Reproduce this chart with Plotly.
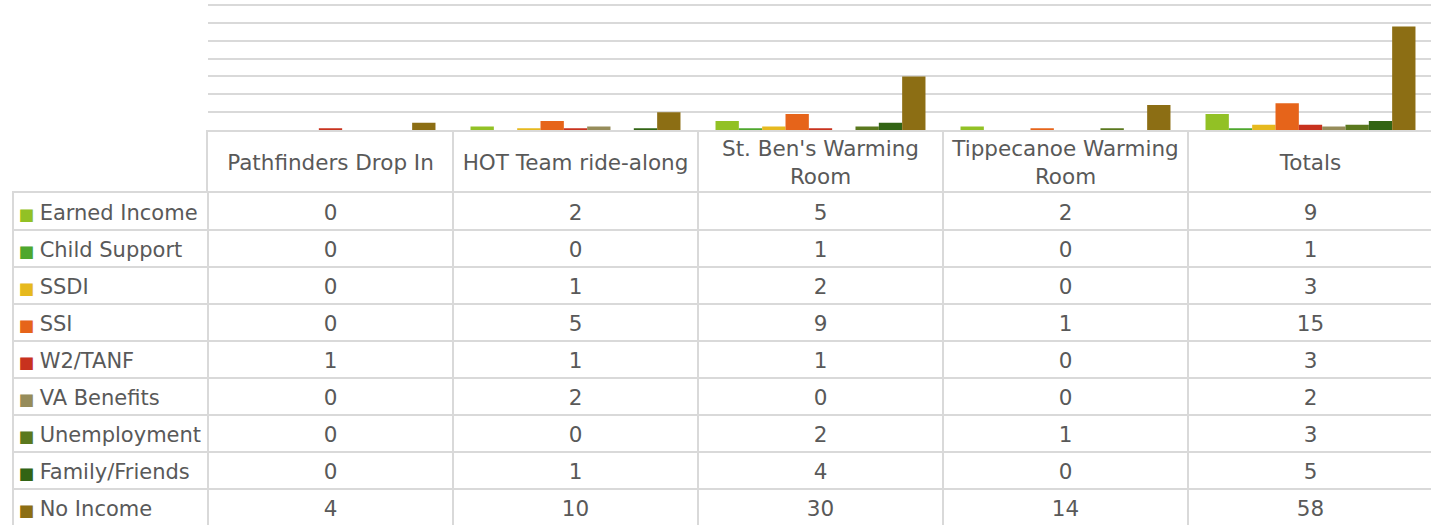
import plotly.graph_objects as go

# dane
sites = ["Pathfinders Drop In", "HOT Team ride-along", "St. Ben's Warming Room",
         "Tippecanoe Warming Room", "Totals"]
site_labels = ["Pathfinders Drop In", "HOT Team ride-along", "St. Ben's Warming<br>Room",
               "Tippecanoe Warming<br>Room", "Totals"]
income = ["Earned Income", "Child Support", "SSDI", "SSI", "W2/TANF",
          "VA Benefits", "Unemployment", "Family/Friends", "No Income"]
colors = ["#92C125", "#4EA72E", "#E6B91E", "#E6641A", "#C8321E",
          "#968C5A", "#5A781E", "#326414", "#8C6E14"]

earned = [0, 2, 5, 2, 9]
child = [0, 0, 1, 0, 1]
ssdi = [0, 1, 2, 0, 3]
ssi = [0, 5, 9, 1, 15]
w2 = [1, 1, 1, 0, 3]
va = [0, 2, 0, 0, 2]
unemp = [0, 0, 2, 1, 3]
family = [0, 1, 4, 0, 5]
no_income = [4, 10, 30, 14, 58]
values = [earned, child, ssdi, ssi, w2, va, unemp, family, no_income]

W, H = 1431, 525
COL = 245
FONT = "DejaVu Sans"
TXT = "#595959"
LINE = "#d9d9d9"
FS = 21.5

fig = go.Figure()

# wykres słupkowy
for name, col, vals in zip(income, colors, values):
    fig.add_trace(go.Bar(
        x=sites, y=vals, name=name,
        marker=dict(color=col, line=dict(width=0)),
        xaxis="x", yaxis="y"
    ))

# nagłówek tabeli
fig.add_trace(go.Scatter(
    x=sites, y=[0] * len(sites), text=site_labels,
    mode="text", textposition="middle center",
    textfont=dict(family=FONT, size=FS, color=TXT),
    xaxis="x3", yaxis="y3", hoverinfo="skip"
))

# komórki tabeli
cx, cy, ct = [], [], []
for i, vals in enumerate(values):
    for j, v in enumerate(vals):
        cx.append(j)
        cy.append(i)
        ct.append(str(v))
fig.add_trace(go.Scatter(
    x=cx, y=cy, text=ct, mode="text", textposition="middle center",
    textfont=dict(family=FONT, size=FS, color=TXT),
    xaxis="x2", yaxis="y2", hoverinfo="skip"
))

row_labels = [
    f"<span style='color:{c};font-size:16.5px'>■ </span>{n}"
    for n, c in zip(income, colors)
]

x_right = len(sites) - 0.5 - 2 / COL
x_left2 = -0.5 - 194 / COL
body_h = (H - 193) / 37
d = 3 / 37  # przesunięcie tekstu w dół

fig.update_layout(
    width=W, height=H,
    margin=dict(l=0, r=0, t=0, b=0),
    paper_bgcolor="white", plot_bgcolor="white",
    showlegend=False,
    barmode="group", bargap=0.143, bargroupgap=0,
    font=dict(family=FONT, size=FS, color=TXT),
    xaxis=dict(
        domain=[208 / W, 1], range=[-0.5, x_right],
        showticklabels=False, ticks="", showgrid=False,
        showline=True, linecolor=LINE, linewidth=2,
    ),
    yaxis=dict(
        domain=[1 - 130 / H, 1 - 1.4 / H], range=[0, 72],
        tickvals=[10, 20, 30, 40, 50, 60, 70],
        showticklabels=False, ticks="", zeroline=False,
        showgrid=True, gridcolor=LINE, gridwidth=2,
    ),
    xaxis3=dict(
        domain=[208 / W, 1], range=[-0.5, x_right], type="category",
        tickson="boundaries", showticklabels=False, ticks="",
        showgrid=True, gridcolor=LINE, gridwidth=2, anchor="y3",
    ),
    yaxis3=dict(
        domain=[1 - 193 / H, 1 - 130 / H], range=[-0.9, 1.1],
        showticklabels=False, ticks="", showgrid=False, zeroline=False,
        showline=True, linecolor=LINE, linewidth=2, anchor="x3",
    ),
    xaxis2=dict(
        domain=[14 / W, 1], range=[x_left2, x_right],
        tickvals=[k - 0.5 for k in range(len(sites))],
        showticklabels=False, ticks="", zeroline=False,
        showgrid=True, gridcolor=LINE, gridwidth=2,
        side="top", showline=True, linecolor=LINE, linewidth=2, anchor="y2",
    ),
    yaxis2=dict(
        domain=[0, 1 - 193 / H], range=[-0.5 - d + body_h, -0.5 - d],
        tickvals=list(range(len(income))), ticktext=row_labels,
        ticklabelposition="inside", ticklabelstandoff=6, ticklabelshift=2,
        ticks="", showgrid=False, zeroline=False,
        tickfont=dict(family=FONT, size=21, color=TXT),
        showline=True, linecolor=LINE, linewidth=2, anchor="x2",
        minor=dict(tickvals=[k + 0.5 - d for k in range(len(income) - 1)],
                   showgrid=True, gridcolor=LINE, gridwidth=2, ticks=""),
    ),
)

fig.write_html(
    "out.html",
    config={"displayModeBar": False},
    post_script="document.body.style.margin='0';document.body.style.overflow='hidden';"
)
